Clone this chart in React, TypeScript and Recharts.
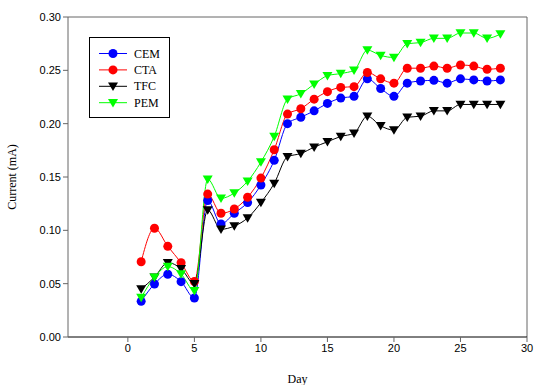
import React from "react";
import { LineChart, Line, XAxis, YAxis, ReferenceLine } from "recharts";

const days = [1,2,3,4,5,6,7,8,9,10,11,12,13,14,15,16,17,18,19,20,21,22,23,24,25,26,27,28];
const cem = [0.0334,0.0497,0.0588,0.0519,0.0366,0.128,0.106,0.116,0.126,0.1425,0.1656,0.200,0.206,0.212,0.219,0.224,0.2256,0.242,0.233,0.2256,0.238,0.240,0.2406,0.238,0.242,0.241,0.240,0.241];
const cta = [0.0706,0.102,0.085,0.0697,0.052,0.134,0.116,0.120,0.131,0.149,0.1756,0.209,0.214,0.223,0.230,0.234,0.2347,0.248,0.242,0.238,0.252,0.252,0.254,0.252,0.255,0.254,0.251,0.252];
const tfc = [0.045,0.056,0.0697,0.064,0.050,0.119,0.101,0.104,0.1116,0.126,0.144,0.169,0.172,0.178,0.183,0.188,0.191,0.207,0.198,0.194,0.206,0.207,0.212,0.212,0.218,0.218,0.218,0.218];
const pem = [0.037,0.056,0.066,0.059,0.0434,0.148,0.130,0.135,0.146,0.164,0.188,0.223,0.228,0.237,0.245,0.247,0.250,0.269,0.264,0.262,0.275,0.276,0.280,0.280,0.285,0.285,0.280,0.284];
const xTicks = [0, 5, 10, 15, 20, 25, 30];
const yTicks = [0, 0.05, 0.1, 0.15, 0.2, 0.25, 0.3];

const data = days.map((d, i) => ({ day: d, CEM: cem[i], CTA: cta[i], TFC: tfc[i], PEM: pem[i] }));

const series = [
  { key: "CEM", color: "#0000ff", shape: "circle" },
  { key: "CTA", color: "#ff0000", shape: "circle" },
  { key: "TFC", color: "#000000", shape: "tri" },
  { key: "PEM", color: "#00ff00", shape: "tri" },
];

const makeDot = (color: string, shape: string) => (props: any) => {
  const { cx, cy, index } = props;
  if (cx == null || cy == null) return <g key={index} />;
  if (shape === "circle") {
    return <circle key={index} cx={cx} cy={cy} r={4.5} fill={color} stroke="none" />;
  }
  const s = 5;
  return (
    <polygon
      key={index}
      points={`${cx - s},${cy - s * 0.75} ${cx + s},${cy - s * 0.75} ${cx},${cy + s * 0.95}`}
      fill={color}
      stroke="none"
    />
  );
};

const LegendBox = () => (
  <div style={{ position: "absolute", left: 89, top: 37, border: "1px solid #000", width: 81, height: 81, boxSizing: "border-box", background: "#fff" }}>
    <svg width={79} height={79} style={{ display: "block" }}>
      {series.map((s, i) => {
        const y = 15.5 + i * 16.4;
        const cx = 23;
        return (
          <g key={s.key}>
            <line x1={9} x2={37} y1={y} y2={y} stroke={s.color} strokeWidth={1} />
            {s.shape === "circle" ? (
              <circle cx={cx} cy={y} r={4.5} fill={s.color} />
            ) : (
              <polygon points={`${cx - 5},${y - 3.75} ${cx + 5},${y - 3.75} ${cx},${y + 4.75}`} fill={s.color} />
            )}
            <text x={44} y={y + 4} fontFamily="'Liberation Serif', 'Times New Roman', serif" fontSize={12} fill="#000">
              {s.key}
            </text>
          </g>
        );
      })}
    </svg>
  </div>
);

export default function App() {
  return (
    <div style={{ position: "absolute", left: 0, top: 0, width: 534, height: 385, background: "#fff" }}>
      <LineChart width={534} height={385} data={data} margin={{ top: 17, right: 7, bottom: 0, left: 0 }}>
        <XAxis
          dataKey="day"
          type="number"
          domain={[-4.5, 30]}
          ticks={xTicks}
          allowDataOverflow
          height={48}
          stroke="#000"
          tickLine={{ stroke: "#666" }}
          tickSize={5}
          tick={{ fontFamily: "'Liberation Sans', Arial, sans-serif", fontSize: 11, fill: "#000" }}
          label={{ value: "Day", position: "insideBottom", offset: 2, fontFamily: "'Liberation Serif', 'Times New Roman', serif", fontSize: 12, fill: "#000" }}
        />
        <YAxis
          type="number"
          domain={[0, 0.3]}
          ticks={yTicks}
          width={68}
          stroke="#666"
          tickSize={5}
          tickFormatter={(v: number) => v.toFixed(2)}
          tick={{ fontFamily: "'Liberation Sans', Arial, sans-serif", fontSize: 11, fill: "#000" }}
          label={{ value: "Current (mA)", angle: -90, position: "insideLeft", offset: 12, style: { textAnchor: "middle" }, fontFamily: "'Liberation Serif', 'Times New Roman', serif", fontSize: 12, fill: "#000" }}
        />
        <ReferenceLine y={0.3} stroke="#666" />
        <ReferenceLine x={30} stroke="#666" />
        {series.map((s) => (
          <Line
            key={s.key}
            dataKey={s.key}
            type="monotone"
            stroke={s.color}
            strokeWidth={1}
            dot={makeDot(s.color, s.shape)}
            activeDot={false}
            isAnimationActive={false}
          />
        ))}
      </LineChart>
      <LegendBox />
    </div>
  );
}
